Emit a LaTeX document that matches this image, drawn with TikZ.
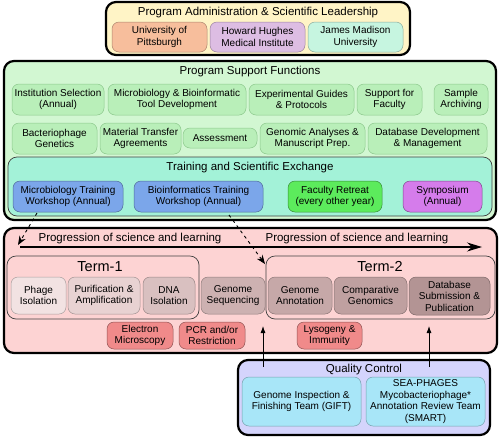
\documentclass[tikz,border=0pt]{standalone}
\usepackage{fontspec}
\setmainfont{Liberation Sans}
\usetikzlibrary{arrows.meta}
\definecolor{adminbg}{HTML}{FFF4C6}
\definecolor{upitt}{HTML}{F7BE9C}
\definecolor{hhmi}{HTML}{DDBDE3}
\definecolor{jmu}{HTML}{C6F5E0}
\definecolor{suppbg}{HTML}{D2F7D2}
\definecolor{suppnode}{HTML}{B9EFB9}
\definecolor{suppline}{HTML}{8CC88C}
\definecolor{trainbg}{HTML}{A3F2D8}
\definecolor{bluenode}{HTML}{7BA6EA}
\definecolor{greennode}{HTML}{5CEB5C}
\definecolor{purplenode}{HTML}{D57CEB}
\definecolor{pinkbg}{HTML}{FDD3D3}
\definecolor{tA}{HTML}{F2E2E2}
\definecolor{tB}{HTML}{E8D2D2}
\definecolor{tC}{HTML}{D9C0C0}
\definecolor{tD}{HTML}{CDB1B1}
\definecolor{tE}{HTML}{C6A8A8}
\definecolor{tF}{HTML}{BFA0A0}
\definecolor{tG}{HTML}{B39494}
\definecolor{rednode}{HTML}{F08A8A}
\definecolor{qcbg}{HTML}{D4D4FC}
\definecolor{qcnode}{HTML}{A8E6F8}
\tikzset{
  outer/.style={draw=black, line width=2.2pt, rounded corners=10pt, inner sep=0pt},
  inbox/.style={draw=black!75, line width=0.7pt, rounded corners=9pt, inner sep=0pt},
  sub/.style={rounded corners=7pt, line width=0.5pt, align=center, inner sep=0pt,
    font=\fontsize{10}{11.5}\selectfont},
  ttl/.style={font=\fontsize{11.5}{13}\selectfont, inner sep=0pt},
  termlbl/.style={font=\fontsize{14.5}{16}\selectfont, inner sep=0pt},
  dasharrow/.style={line width=0.9pt, dash pattern=on 3pt off 3.5pt,
    -{Stealth[length=9pt,width=7pt]}},
  uparrow/.style={line width=0.8pt, -{Latex[length=7pt,width=5pt]}},
}
\newcommand{\bx}[7]{\node[#6, minimum width={(#4)-(#2)}, minimum height={(#5)-(#3)}] (#1) at ({((#2)+(#4))/2},{((#3)+(#5))/2}) {#7};}
\begin{document}
\begin{tikzpicture}[x=1pt,y=-1pt]
\useasboundingbox (0,0) rectangle (500,437);
% admin
\bx{admin}{106}{2}{410}{55}{outer,fill=adminbg}{}
\node[ttl] (admint) at (258,12.5) {Program Administration \& Scientific Leadership};
\bx{upitt}{112}{22}{207}{52}{sub,fill=upitt,draw=upitt!70!black}{University of\\Pittsburgh}
\bx{hhmi}{210}{22}{305}{52}{sub,fill=hhmi,draw=hhmi!70!black}{Howard Hughes\\Medical Institute}
\bx{jmu}{308}{22}{403}{52}{sub,fill=jmu,draw=jmu!70!black}{James Madison\\University}
% support
\bx{supp}{4}{61}{496}{220}{outer,fill=suppbg}{}
\node[ttl] (suppt) at (250,71.5) {Program Support Functions};
\tikzset{sn/.style={sub,fill=suppnode,draw=suppline}}
\bx{inst}{12}{84}{104}{115}{sn}{Institution Selection\\(Annual)}
\bx{tool}{108}{84}{246}{115}{sn}{Microbiology \& Bioinformatic\\Tool Development}
\bx{guide}{249}{84}{354}{115}{sn}{Experimental Guides\\\& Protocols}
\bx{fac}{357}{84}{422}{115}{sn}{Support for\\Faculty}
\bx{arch}{434}{84}{488}{115}{sn}{Sample\\Archiving}
\bx{gen}{12}{123}{97}{154}{sn}{Bacteriophage\\Genetics}
\bx{mta}{100}{123}{181}{154}{sn}{Material Transfer\\Agreements}
\bx{assess}{183}{128}{257}{148}{sn}{Assessment}
\bx{ganal}{260}{123}{365}{154}{sn}{Genomic Analyses \&\\Manuscript Prep.}
\bx{dbdev}{368}{123}{487}{154}{sn}{Database Development\\\& Management}
% training
\bx{train}{8}{157}{492}{216}{inbox,fill=trainbg}{}
\node[ttl] (traint) at (250,167.5) {Training and Scientific Exchange};
\bx{mtrain}{13}{181}{123}{212}{sub,fill=bluenode,draw=bluenode!65!black}{Microbiology Training\\Workshop (Annual)}
\bx{btrain}{134}{181}{263}{212}{sub,fill=bluenode,draw=bluenode!65!black}{Bioinformatics Training\\Workshop (Annual)}
\bx{retreat}{288}{181}{382}{212}{sub,fill=greennode,draw=greennode!60!black}{Faculty Retreat\\(every other year)}
\bx{symp}{403}{181}{482}{212}{sub,fill=purplenode,draw=purplenode!60!black}{Symposium\\(Annual)}
% science
\bx{sci}{4}{228}{497}{353}{outer,fill=pinkbg}{}
\node[ttl] (prog1) at (130,238.5) {Progression of science and learning};
\node[ttl] (prog2) at (357,238.5) {Progression of science and learning};
\coordinate (pa) at (20,247);
\coordinate (pb) at (482,247);
\draw[line width=1.1pt, -{Stealth[length=15pt,width=9pt]}] (pa) -- (pb);
\bx{term1}{7}{256}{199}{319}{inbox,fill=pinkbg}{}
\bx{term2}{266}{256}{495}{319}{inbox,fill=pinkbg}{}
\node[termlbl] (t1l) at (100,267) {Term-1};
\node[termlbl] (t2l) at (380,267) {Term-2};
\bx{phage}{11}{277}{66}{314}{sub,fill=tA,draw=tA!70!black}{Phage\\Isolation}
\bx{purif}{68}{277}{140}{314}{sub,fill=tB,draw=tB!70!black}{Purification \&\\Amplification}
\bx{dna}{143}{277}{195}{314}{sub,fill=tC,draw=tC!70!black}{DNA\\Isolation}
\bx{seq}{201}{277}{265}{314}{sub,fill=tD,draw=tD!70!black}{Genome\\Sequencing}
\bx{annot}{268}{277}{332}{314}{sub,fill=tE,draw=tE!70!black}{Genome\\Annotation}
\bx{comp}{334}{277}{407}{314}{sub,fill=tF,draw=tF!70!black}{Comparative\\Genomics}
\bx{dbsub}{409}{277}{490}{315}{sub,fill=tG,draw=tG!70!black}{Database\\Submission \&\\Publication}
\bx{em}{107}{322}{173}{349}{sub,fill=rednode,draw=rednode!60!black}{Electron\\Microscopy}
\bx{pcr}{179}{322}{245}{349}{sub,fill=rednode,draw=rednode!60!black}{PCR and/or\\Restriction}
\bx{lys}{297}{322}{362}{349}{sub,fill=rednode,draw=rednode!60!black}{Lysogeny \&\\Immunity}
% quality control
\bx{qc}{238}{360}{490}{435}{outer,fill=qcbg}{}
\node[ttl] (qct) at (364,369.5) {Quality Control};
\bx{gift}{242}{377}{361}{426}{sub,fill=qcnode,draw=qcnode!70!black}{Genome Inspection \&\\Finishing Team (GIFT)}
\bx{smart}{366}{377}{485}{426}{sub,fill=qcnode,draw=qcnode!70!black}{SEA-PHAGES\\Mycobacteriophage*\\Annotation Review Team\\(SMART)}
% arrows
\coordinate (q1s) at (263,367);
\coordinate (q1e) at (263,326);
\coordinate (q2s) at (429,367);
\coordinate (q2e) at (429,326);
\draw[uparrow] (q1s) -- (q1e);
\draw[uparrow] (q2s) -- (q2e);
\coordinate (d1s) at (37,213);
\coordinate (d1e) at (18,245);
\coordinate (d2s) at (229,215);
\coordinate (d2e) at (265,264);
\draw[dasharrow] (d1s) -- (d1e);
\draw[dasharrow] (d2s) -- (d2e);
\end{tikzpicture}
\end{document}
